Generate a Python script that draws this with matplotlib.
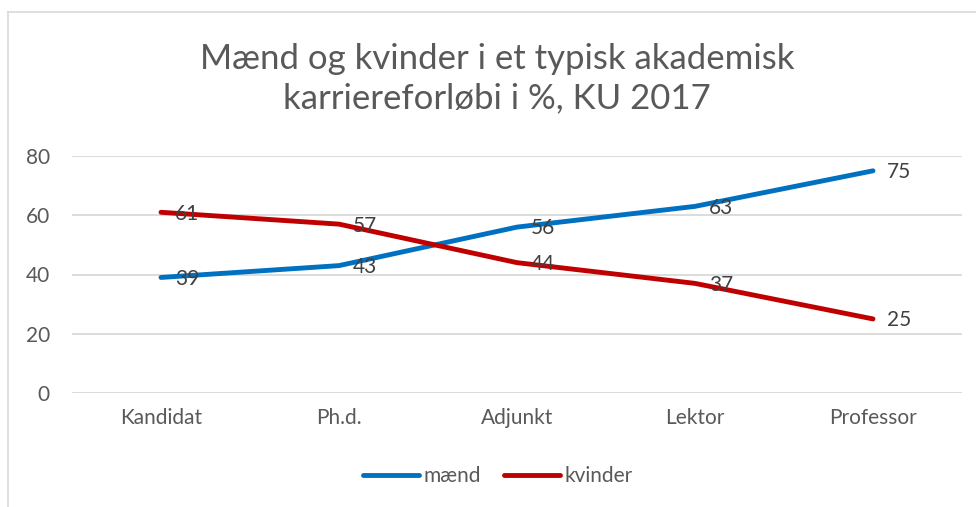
import matplotlib
matplotlib.use("Agg")
import matplotlib.pyplot as plt
from matplotlib.lines import Line2D

categories = ["Kandidat", "Ph.d.", "Adjunkt", "Lektor", "Professor"]
maend = [39, 43, 56, 63, 75]
kvinder = [61, 57, 44, 37, 25]
yticks = [0, 20, 40, 60, 80]

plt.rcParams['font.family'] = ['Lato', 'DejaVu Sans']

fig = plt.figure(figsize=(9.76, 5.07), dpi=100)
ax = fig.add_axes([72/976, 1-393/507, (962-72)/976, (393-156)/507])

x = list(range(len(categories)))
blue = "#0070C0"
red = "#C00000"
ax.plot(x, maend, color=blue, lw=3.5, solid_capstyle='round', label="mænd", zorder=3)
ax.plot(x, kvinder, color=red, lw=3.5, solid_capstyle='round', label="kvinder", zorder=3)

for xi, v in zip(x, maend):
    ax.annotate(str(v), (xi, v), xytext=(10, -1), textcoords='offset points',
                va='center', ha='left', fontsize=15, color="#404040", zorder=4)
for xi, v in zip(x, kvinder):
    ax.annotate(str(v), (xi, v), xytext=(10, -1), textcoords='offset points',
                va='center', ha='left', fontsize=15, color="#404040", zorder=4)

ax.set_xlim(-0.5, len(categories) - 0.5)
ax.set_ylim(0, 80)
ax.set_yticks(yticks)
ax.set_xticks(x)
ax.set_xticklabels(categories)
ax.grid(axis='y', color="#D9D9D9", lw=1.3)
ax.set_axisbelow(True)
for s in ax.spines.values():
    s.set_visible(False)
ax.tick_params(axis='both', length=0, labelsize=15, colors="#595959")
ax.tick_params(axis='y', pad=16)
ax.tick_params(axis='x', pad=11)

fig.text(0.509, 1-79/507, "Mænd og kvinder i et typisk akademisk\nkarriereforløbi i %, KU 2017",
         ha='center', va='center', fontsize=25, color="#595959", linespacing=1.27)

handles = [Line2D([], [], color=blue, lw=3.5, solid_capstyle='round'),
           Line2D([], [], color=red, lw=3.5, solid_capstyle='round')]
fig.legend(handles, ["mænd", "kvinder"], loc='center', bbox_to_anchor=(0.51, 1-476/507),
           ncol=2, frameon=False, fontsize=15, handlelength=2.7, handletextpad=0.2,
           columnspacing=1.1, labelcolor="#595959")

border = "#D9D9D9"
fig.add_artist(Line2D([8/976, 1], [1-12/507, 1-12/507], transform=fig.transFigure, color=border, lw=1.2))
fig.add_artist(Line2D([8/976, 8/976], [0, 1-12/507], transform=fig.transFigure, color=border, lw=1.2))

fig.savefig("out.png", dpi=100)
